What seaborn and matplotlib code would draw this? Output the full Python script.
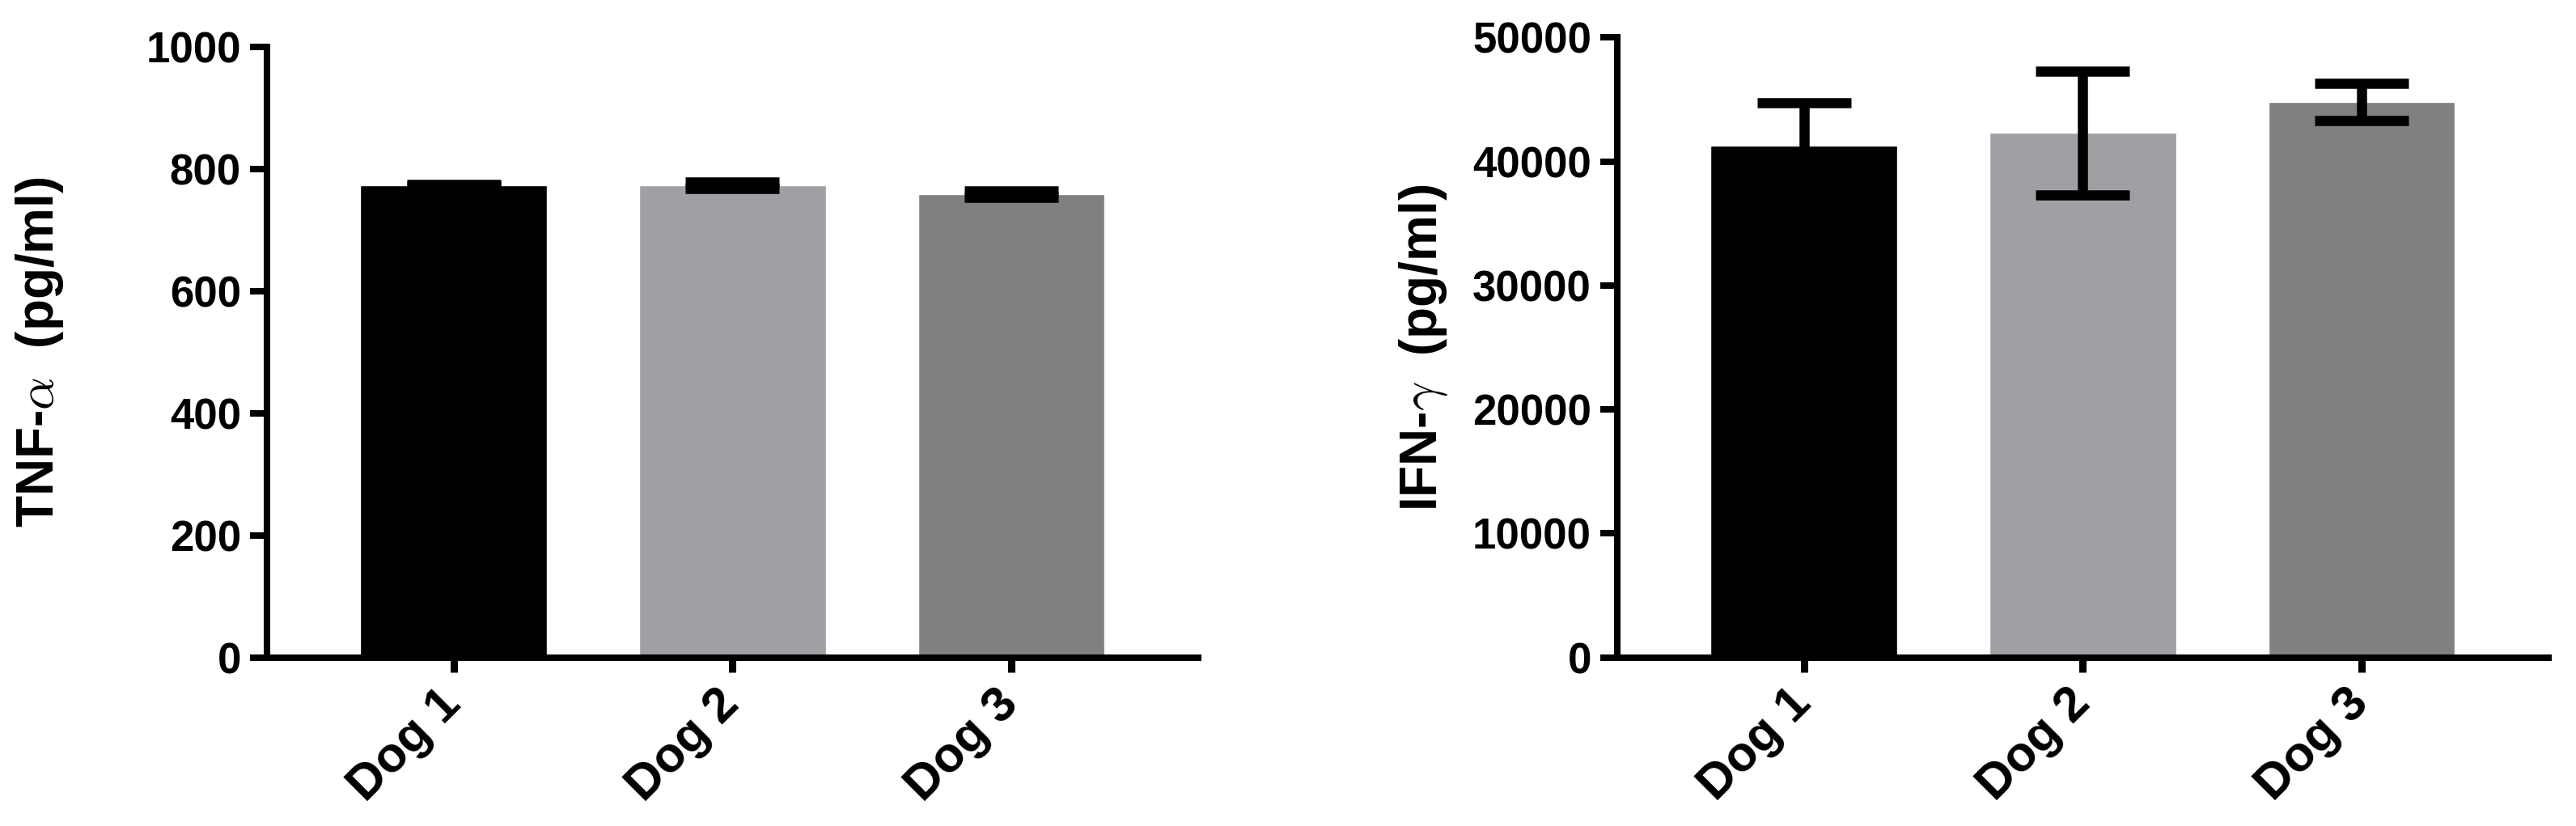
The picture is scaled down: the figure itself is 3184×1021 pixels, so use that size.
import numpy as np
import pandas as pd
import matplotlib
matplotlib.use("Agg")
import matplotlib.pyplot as plt
import seaborn as sns

dogs = ["Dog 1", "Dog 2", "Dog 3"]
tnf_mean = [773.5, 773.5, 759]
tnf_err = [1, 5.5, 4.8]
ifn_mean = [41270, 42300, 44800]
ifn_err = [3485, 5000, 1500]
bar_colors = ["#000000", "#a09fa4", "#808080"]

sns.set_style("ticks")
plt.rcParams["font.family"] = ["Liberation Sans", "DejaVu Sans"]
plt.rcParams["font.weight"] = "bold"
plt.rcParams["mathtext.fontset"] = "cm"
for k in ["text.color", "axes.labelcolor", "xtick.color", "ytick.color", "axes.edgecolor"]:
    plt.rcParams[k] = "black"

df = pd.DataFrame({"dog": dogs, "tnf": tnf_mean, "ifn": ifn_mean})

fig = plt.figure(figsize=(31.84, 10.21), dpi=100)
ax1 = fig.add_axes([0.1036, 0.2037, 0.3615, 0.7395])
ax2 = fig.add_axes([0.6278, 0.2042, 0.3615, 0.7503])

panels = [
    (ax1, "tnf", tnf_mean, tnf_err, 1000, 200, r"TNF-$\alpha$  (pg/ml)", -0.216),
    (ax2, "ifn", ifn_mean, ifn_err, 50000, 10000, r"IFN-$\gamma$  (pg/ml)", -0.18),
]

for ax, col, means, errs, ymax, step, label, lx in panels:
    sns.barplot(data=df, x="dog", y=col, hue="dog", palette=bar_colors,
                saturation=1, width=0.67, errorbar=None, legend=False, ax=ax)
    ax.errorbar(np.arange(len(dogs)), means, yerr=errs, fmt="none",
                ecolor="black", elinewidth=9, capsize=42, capthick=9, zorder=3)
    ax.set_xlim(-0.67, 2.67)
    ax.set_ylim(0, ymax)
    ax.set_yticks(np.arange(0, ymax + 1, step))
    sns.despine(ax=ax)
    for s in ["left", "bottom"]:
        ax.spines[s].set_linewidth(5.8)
    ax.tick_params(axis="y", length=15, width=5.8, labelsize=38, pad=8)
    ax.tick_params(axis="x", length=13, width=6.5, labelsize=44, pad=22)
    for t in ax.get_xticklabels():
        t.set_rotation(45)
        t.set_ha("right")
        t.set_va("center")
        t.set_rotation_mode("anchor")
    ax.set_xlabel("")
    ax.set_ylabel(label, fontsize=46, fontweight="bold")
    ax.yaxis.set_label_coords(lx, 0.5)

fig.savefig("out.png", dpi=100)
